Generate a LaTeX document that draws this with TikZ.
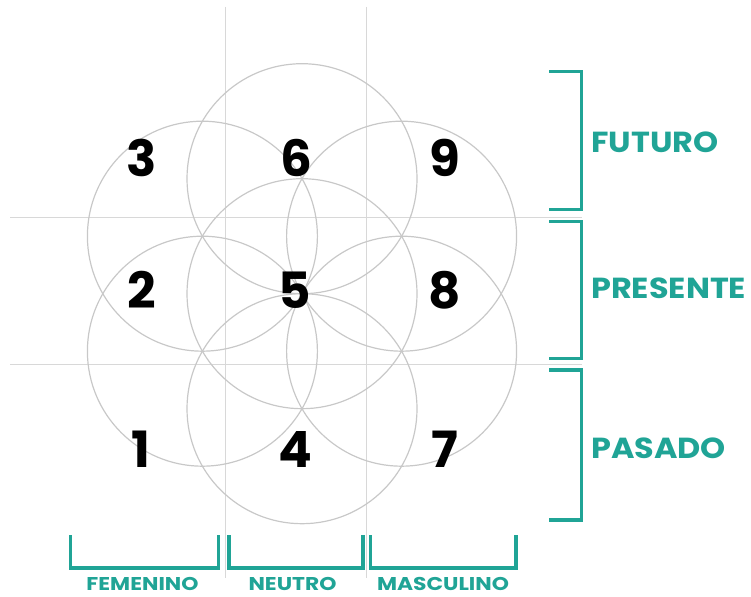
\documentclass[tikz,border=0pt]{standalone}
\usepackage{graphicx}
\usepackage{fontspec}
\setmainfont{Poppins}

\definecolor{tealmark}{RGB}{32,164,150}
\definecolor{petalgray}{RGB}{200,200,200}
\definecolor{guidegray}{RGB}{216,216,216}

\newcommand{\sidelabel}[1]{\scalebox{1.1}[1]{#1}}
\newcommand{\bottomlabel}[1]{\scalebox{1.18}[1]{#1}}

\tikzset{
  guide/.style={guidegray, line width=1.4pt},
  petal/.style={petalgray, line width=1.2pt},
  num/.style={inner sep=0pt, font=\fontsize{50}{50}\selectfont\bfseries},
  bracket/.style={tealmark, line width=3.3pt},
  side/.style={tealmark, inner sep=0pt, anchor=west, font=\fontsize{29}{29}\selectfont\bfseries},
  bottom/.style={tealmark, inner sep=0pt, font=\fontsize{18.5}{18.5}\selectfont\bfseries}
}

\begin{document}
\begin{tikzpicture}[x=1pt, y=-1pt]
  \useasboundingbox (0,0) rectangle (751,596);

  % Guide lines
  \draw[guide] (225.5,7) -- (225.5,578);
  \draw[guide] (366.7,7) -- (366.7,578);
  \draw[guide] (10,217.5) -- (582,217.5);
  \draw[guide] (10,364.5) -- (582,364.5);

  % Seed of life
  \coordinate (c) at (302,293.7);
  \draw[petal] (c) circle[radius=115pt];
  \foreach \ang in {30,90,...,330}
    \draw[petal] (c) ++(\ang:115) circle[radius=115pt];

  % Numbers
  \node[num] (n3) at (142,158) {3};
  \node[num] (n6) at (296,158) {6};
  \node[num] (n9) at (445,158) {9};
  \node[num] (n2) at (142,290) {2};
  \node[num] (n5) at (295,290) {5};
  \node[num] (n8) at (445,290) {8};
  \node[num] (n1) at (141,449) {1};
  \node[num] (n4) at (295.5,449) {4};
  \node[num] (n7) at (445,449) {7};

  % Time brackets
  \draw[bracket] (549.3,71.7) -- (581.7,71.7) -- (581.7,209.3) -- (549.3,209.3);
  \draw[bracket] (549.3,221.7) -- (581.7,221.7) -- (581.7,358.3) -- (549.3,358.3);
  \draw[bracket] (549.3,370) -- (581.7,370) -- (581.7,520) -- (549.3,520);
  \node[side] (futuro) at (591,142) {\sidelabel{FUTURO}};
  \node[side] (presente) at (591,288) {\sidelabel{PRESENTE}};
  \node[side] (pasado) at (591,448) {\sidelabel{PASADO}};

  % Gender brackets
  \draw[bracket] (70.5,535) -- (70.5,568) -- (218.5,568) -- (218.5,535);
  \draw[bracket] (229,535) -- (229,568) -- (363,568) -- (363,535);
  \draw[bracket] (370.5,535) -- (370.5,568) -- (516,568) -- (516,535);
  \node[bottom] (femenino) at (142.5,584) {\bottomlabel{FEMENINO}};
  \node[bottom] (neutro) at (292.5,584) {\bottomlabel{NEUTRO}};
  \node[bottom] (masculino) at (443,584) {\bottomlabel{MASCULINO}};
\end{tikzpicture}
\end{document}
